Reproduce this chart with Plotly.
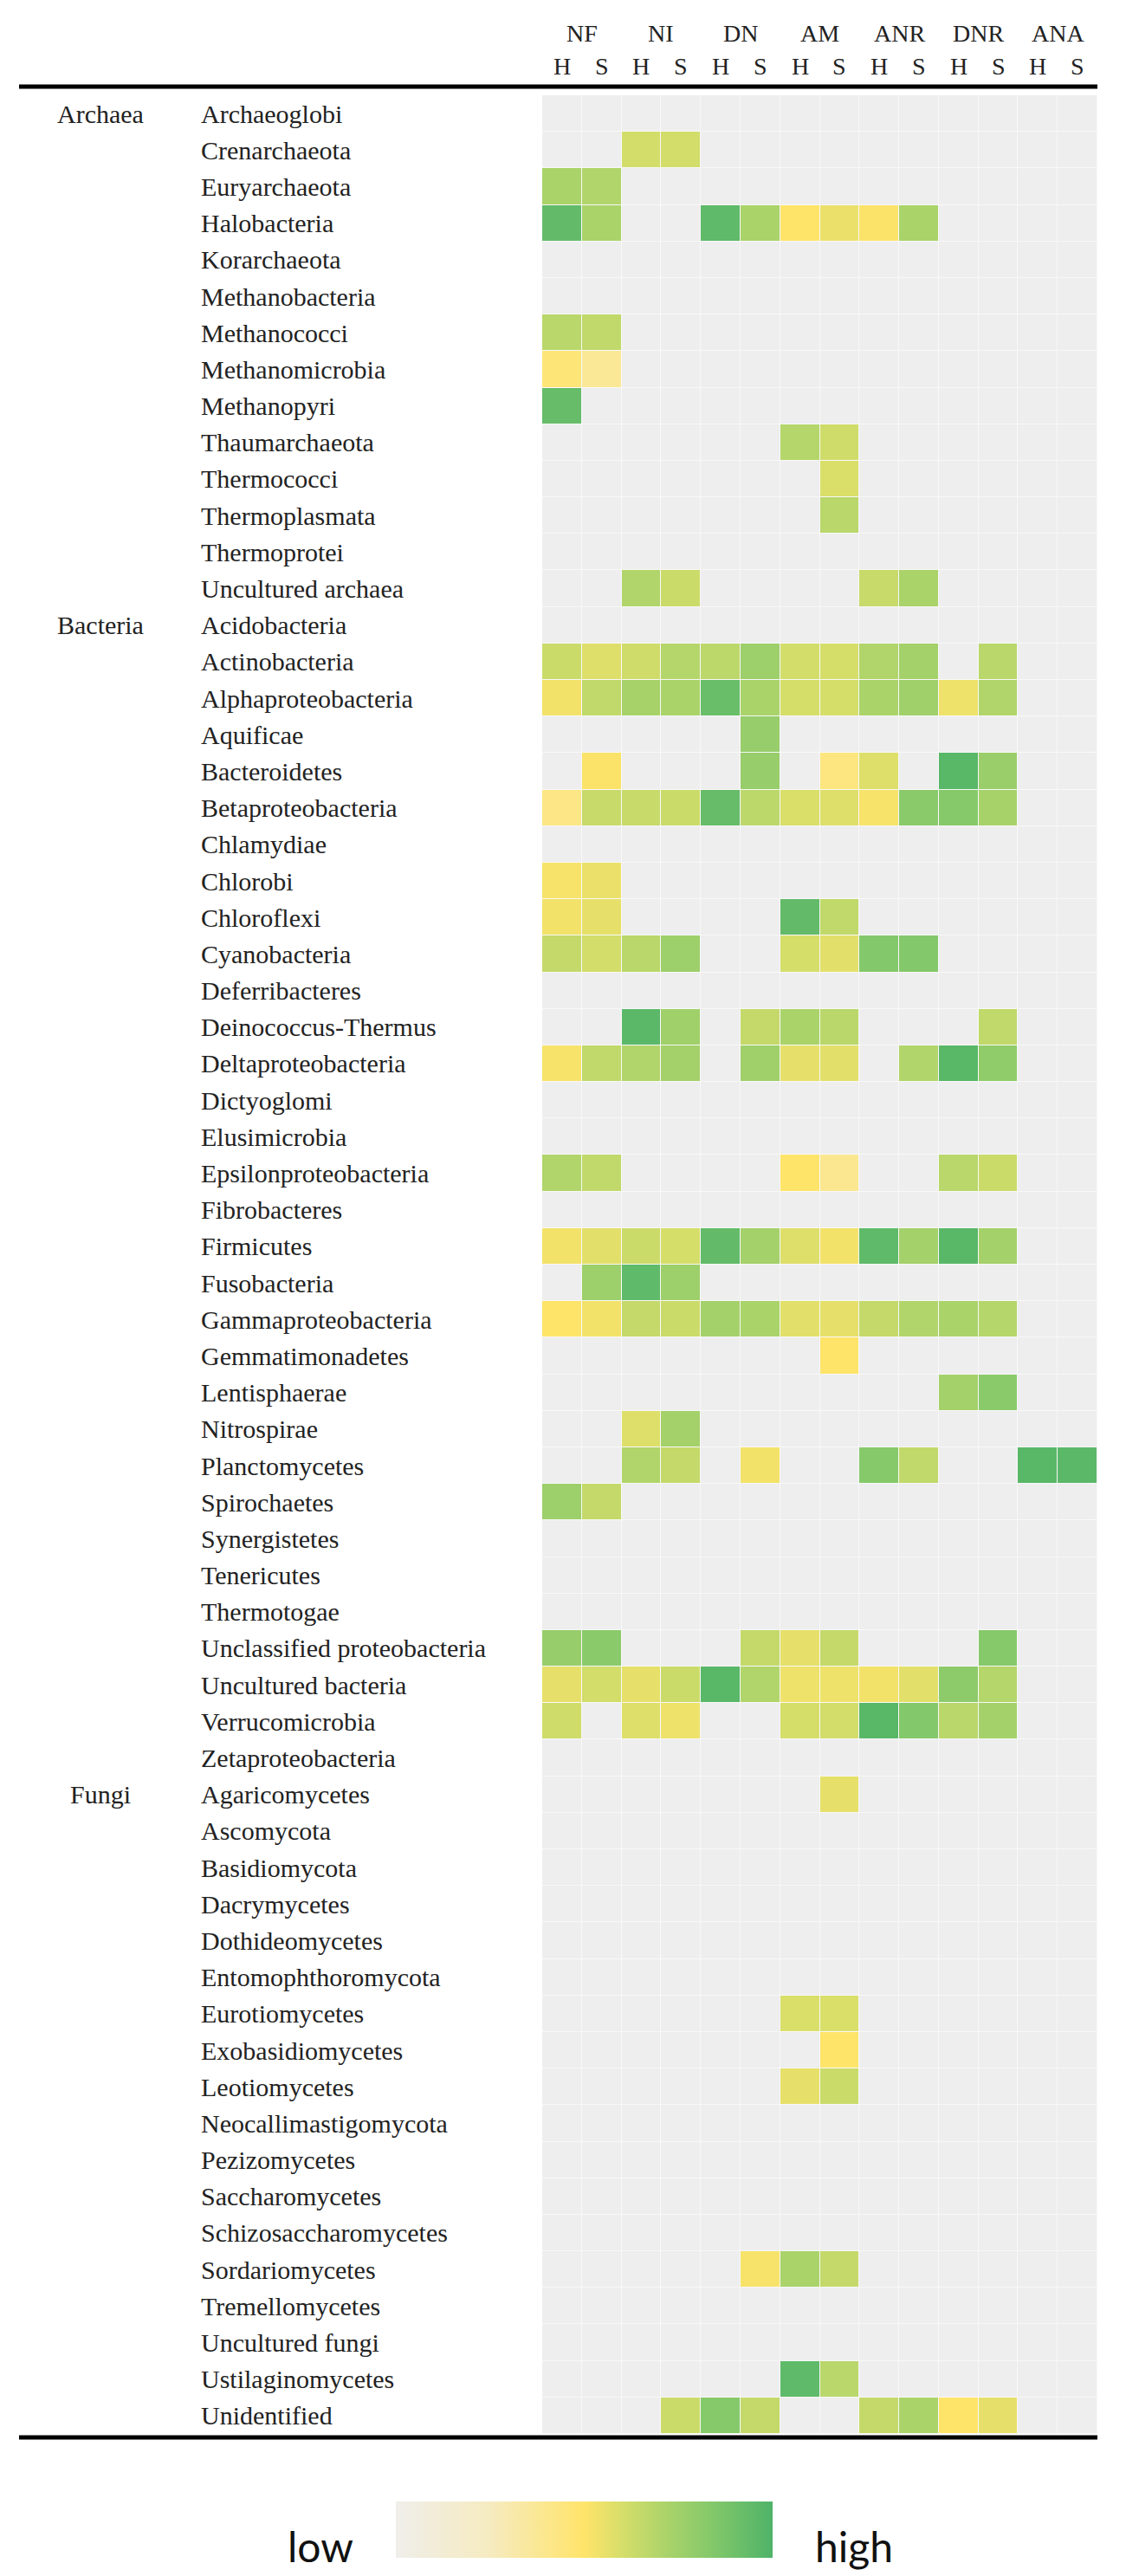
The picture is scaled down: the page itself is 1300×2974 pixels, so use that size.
import plotly.graph_objects as go

# ---------------- data ----------------
treatments = ["NF", "NI", "DN", "AM", "ANR", "DNR", "ANA"]
sub_cols = ["H", "S"]
columns = [f"{t} {s}" for t in treatments for s in sub_cols]

groups = ["Archaea", "Bacteria", "Fungi"]

archaea_taxa = ["Archaeoglobi", "Crenarchaeota", "Euryarchaeota", "Halobacteria", "Korarchaeota",
                "Methanobacteria", "Methanococci", "Methanomicrobia", "Methanopyri", "Thaumarchaeota",
                "Thermococci", "Thermoplasmata", "Thermoprotei", "Uncultured archaea"]
bacteria_taxa = ["Acidobacteria", "Actinobacteria", "Alphaproteobacteria", "Aquificae", "Bacteroidetes",
                 "Betaproteobacteria", "Chlamydiae", "Chlorobi", "Chloroflexi", "Cyanobacteria",
                 "Deferribacteres", "Deinococcus-Thermus", "Deltaproteobacteria", "Dictyoglomi",
                 "Elusimicrobia", "Epsilonproteobacteria", "Fibrobacteres", "Firmicutes", "Fusobacteria",
                 "Gammaproteobacteria", "Gemmatimonadetes", "Lentisphaerae", "Nitrospirae",
                 "Planctomycetes", "Spirochaetes", "Synergistetes", "Tenericutes", "Thermotogae",
                 "Unclassified proteobacteria", "Uncultured bacteria", "Verrucomicrobia",
                 "Zetaproteobacteria"]
fungi_taxa = ["Agaricomycetes", "Ascomycota", "Basidiomycota", "Dacrymycetes", "Dothideomycetes",
              "Entomophthoromycota", "Eurotiomycetes", "Exobasidiomycetes", "Leotiomycetes",
              "Neocallimastigomycota", "Pezizomycetes", "Saccharomycetes", "Schizosaccharomycetes",
              "Sordariomycetes", "Tremellomycetes", "Uncultured fungi", "Ustilaginomycetes", "Unidentified"]

N = None
#            NF H NF S NI H NI S DN H DN S AM H AM S ANRH ANRS DNRH DNRS ANAH ANAS
archaea_values = [
    [N, N, N, N, N, N, N, N, N, N, N, N, N, N],            # Archaeoglobi
    [N, N, 61, 61, N, N, N, N, N, N, N, N, N, N],          # Crenarchaeota
    [72, 70, N, N, N, N, N, N, N, N, N, N, N, N],          # Euryarchaeota
    [94, 72, N, N, 95, 72, 50, 55, 51, 72, N, N, N, N],    # Halobacteria
    [N, N, N, N, N, N, N, N, N, N, N, N, N, N],            # Korarchaeota
    [N, N, N, N, N, N, N, N, N, N, N, N, N, N],            # Methanobacteria
    [68, 66, N, N, N, N, N, N, N, N, N, N, N, N],          # Methanococci
    [46, 37, N, N, N, N, N, N, N, N, N, N, N, N],          # Methanomicrobia
    [93, N, N, N, N, N, N, N, N, N, N, N, N, N],           # Methanopyri
    [N, N, N, N, N, N, 69, 62, N, N, N, N, N, N],          # Thaumarchaeota
    [N, N, N, N, N, N, N, 59, N, N, N, N, N, N],           # Thermococci
    [N, N, N, N, N, N, N, 68, N, N, N, N, N, N],           # Thermoplasmata
    [N, N, N, N, N, N, N, N, N, N, N, N, N, N],            # Thermoprotei
    [N, N, 70, 63, N, N, N, N, 64, 72, N, N, N, N],        # Uncultured archaea
]
bacteria_values = [
    [N, N, N, N, N, N, N, N, N, N, N, N, N, N],            # Acidobacteria
    [63, 58, 62, 69, 67, 76, 61, 60, 70, 74, N, 68, N, N], # Actinobacteria
    [53, 66, 73, 72, 92, 72, 60, 60, 72, 75, 54, 70, N, N],# Alphaproteobacteria
    [N, N, N, N, N, 78, N, N, N, N, N, N, N, N],           # Aquificae
    [N, 51, N, N, N, 78, N, 44, 58, N, 97, 77, N, N],      # Bacteroidetes
    [42, 64, 64, 63, 93, 67, 59, 58, 52, 82, 83, 73, N, N],# Betaproteobacteria
    [N, N, N, N, N, N, N, N, N, N, N, N, N, N],            # Chlamydiae
    [52, 55, N, N, N, N, N, N, N, N, N, N, N, N],          # Chlorobi
    [53, 56, N, N, N, N, 94, 66, N, N, N, N, N, N],        # Chloroflexi
    [65, 61, 68, 76, N, N, 60, 57, 84, 84, N, N, N, N],    # Cyanobacteria
    [N, N, N, N, N, N, N, N, N, N, N, N, N, N],            # Deferribacteres
    [N, N, 96, 75, N, 65, 72, 68, N, N, N, 66, N, N],      # Deinococcus-Thermus
    [52, 66, 70, 74, N, 75, 56, 57, N, 70, 97, 80, N, N],  # Deltaproteobacteria
    [N, N, N, N, N, N, N, N, N, N, N, N, N, N],            # Dictyoglomi
    [N, N, N, N, N, N, N, N, N, N, N, N, N, N],            # Elusimicrobia
    [70, 66, N, N, N, N, 50, 39, N, N, 68, 63, N, N],      # Epsilonproteobacteria
    [N, N, N, N, N, N, N, N, N, N, N, N, N, N],            # Fibrobacteres
    [53, 57, 63, 60, 94, 74, 58, 53, 95, 74, 97, 74, N, N],# Firmicutes
    [N, 76, 95, 76, N, N, N, N, N, N, N, N, N, N],         # Fusobacteria
    [50, 53, 65, 63, 74, 72, 57, 56, 65, 70, 72, 69, N, N],# Gammaproteobacteria
    [N, N, N, N, N, N, N, 50, N, N, N, N, N, N],           # Gemmatimonadetes
    [N, N, N, N, N, N, N, N, N, N, 74, 82, N, N],          # Lentisphaerae
    [N, N, 58, 74, N, N, N, N, N, N, N, N, N, N],          # Nitrospirae
    [N, N, 70, 65, N, 53, N, N, 83, 66, N, N, 97, 96],     # Planctomycetes
    [76, 65, N, N, N, N, N, N, N, N, N, N, N, N],          # Spirochaetes
    [N, N, N, N, N, N, N, N, N, N, N, N, N, N],            # Synergistetes
    [N, N, N, N, N, N, N, N, N, N, N, N, N, N],            # Tenericutes
    [N, N, N, N, N, N, N, N, N, N, N, N, N, N],            # Thermotogae
    [78, 82, N, N, N, 65, 56, 65, N, N, N, 83, N, N],      # Unclassified proteobacteria
    [56, 61, 56, 63, 97, 70, 54, 54, 53, 57, 81, 69, N, N],# Uncultured bacteria
    [62, N, 58, 54, N, N, 60, 61, 97, 84, 68, 74, N, N],   # Verrucomicrobia
    [N, N, N, N, N, N, N, N, N, N, N, N, N, N],            # Zetaproteobacteria
]
fungi_values = [
    [N, N, N, N, N, N, N, 56, N, N, N, N, N, N],           # Agaricomycetes
    [N, N, N, N, N, N, N, N, N, N, N, N, N, N],            # Ascomycota
    [N, N, N, N, N, N, N, N, N, N, N, N, N, N],            # Basidiomycota
    [N, N, N, N, N, N, N, N, N, N, N, N, N, N],            # Dacrymycetes
    [N, N, N, N, N, N, N, N, N, N, N, N, N, N],            # Dothideomycetes
    [N, N, N, N, N, N, N, N, N, N, N, N, N, N],            # Entomophthoromycota
    [N, N, N, N, N, N, 59, 59, N, N, N, N, N, N],          # Eurotiomycetes
    [N, N, N, N, N, N, N, 50, N, N, N, N, N, N],           # Exobasidiomycetes
    [N, N, N, N, N, N, 56, 63, N, N, N, N, N, N],          # Leotiomycetes
    [N, N, N, N, N, N, N, N, N, N, N, N, N, N],            # Neocallimastigomycota
    [N, N, N, N, N, N, N, N, N, N, N, N, N, N],            # Pezizomycetes
    [N, N, N, N, N, N, N, N, N, N, N, N, N, N],            # Saccharomycetes
    [N, N, N, N, N, N, N, N, N, N, N, N, N, N],            # Schizosaccharomycetes
    [N, N, N, N, N, 52, 72, 65, N, N, N, N, N, N],         # Sordariomycetes
    [N, N, N, N, N, N, N, N, N, N, N, N, N, N],            # Tremellomycetes
    [N, N, N, N, N, N, N, N, N, N, N, N, N, N],            # Uncultured fungi
    [N, N, N, N, N, N, 95, 68, N, N, N, N, N, N],          # Ustilaginomycetes
    [N, N, N, 63, 83, 65, N, N, 65, 72, 50, 56, N, N],     # Unidentified
]

# ---------------- assemble ----------------
taxa = archaea_taxa + bacteria_taxa + fungi_taxa
z = archaea_values + bacteria_values + fungi_values
group_first_row = [0, len(archaea_taxa), len(archaea_taxa) + len(bacteria_taxa)]
n_rows = len(taxa)
n_cols = len(columns)
xs = list(range(n_cols))
ys = list(range(n_rows))

# pixel geometry of the plot area
W, H = 1300, 2974
L, R, T, B = 618, 1259, 102, 2802
pw, ph = R - L, B - T


def px_x(px):
    return (px - L) / pw


def px_y(py):
    return (B - py) / ph


colorscale = [
    [0.0, "#EFEEEA"],
    [0.25, "#F6EBC0"],
    [0.50, "#FFE46A"],
    [0.60, "#D6DE6A"],
    [0.72, "#AAD36A"],
    [0.85, "#80C76A"],
    [1.0, "#4FB368"],
]

SERIF = "Liberation Serif, Times New Roman, serif"
SANS = "Lato, Carlito, sans-serif"

fig = go.Figure()

# grey background cells
fig.add_trace(go.Heatmap(
    x=xs, y=ys, z=[[0] * n_cols for _ in ys],
    colorscale=[[0, "#EEEEEE"], [1, "#EEEEEE"]],
    showscale=False, xgap=1, ygap=1, hoverinfo="skip",
))

# data cells
fig.add_trace(go.Heatmap(
    x=xs, y=ys, z=z, zmin=0, zmax=100,
    colorscale=colorscale, xgap=1, ygap=1,
    colorbar=dict(
        orientation="h", thickness=65, thicknessmode="pixels",
        len=435, lenmode="pixels",
        x=px_x(666.5), xanchor="center", xpad=0,
        y=px_y(2880), yanchor="top", ypad=0,
        showticklabels=False, ticks="", outlinewidth=0,
    ),
    customdata=[[taxa[i]] * n_cols for i in ys],
    hovertemplate="%{customdata}<br>col %{x}<br>%{z}<extra></extra>",
))

annotations = []
# taxon labels
for i, name in enumerate(taxa):
    annotations.append(dict(
        x=px_x(222), xref="paper", y=i, yref="y", text=name, showarrow=False,
        xanchor="left", yanchor="middle", font=dict(family=SERIF, size=30, color="#222222"),
    ))
# group labels
for g, r in zip(groups, group_first_row):
    annotations.append(dict(
        x=px_x(108), xref="paper", y=r, yref="y", text=g, showarrow=False,
        xanchor="center", yanchor="middle", font=dict(family=SERIF, size=30, color="#222222"),
    ))
# header
for k, t in enumerate(treatments):
    annotations.append(dict(
        x=2 * k + 0.5, xref="x", y=px_y(30), yref="paper", text=t, showarrow=False,
        xanchor="center", yanchor="middle", font=dict(family=SERIF, size=28, color="#222222"),
    ))
for c in xs:
    annotations.append(dict(
        x=c, xref="x", y=px_y(68), yref="paper", text=sub_cols[c % 2], showarrow=False,
        xanchor="center", yanchor="middle", font=dict(family=SERIF, size=28, color="#222222"),
    ))
# colour-bar labels
annotations.append(dict(x=px_x(362), xref="paper", y=px_y(2931), yref="paper", text="low",
                        showarrow=False, xanchor="center", yanchor="middle",
                        font=dict(family=SANS, size=48, color="#111111")))
annotations.append(dict(x=px_x(978), xref="paper", y=px_y(2931), yref="paper", text="high",
                        showarrow=False, xanchor="center", yanchor="middle",
                        font=dict(family=SANS, size=48, color="#111111")))

shapes = [
    dict(type="line", xref="paper", yref="paper", x0=px_x(14), x1=1.0, y0=px_y(92), y1=px_y(92),
         line=dict(color="black", width=5)),
    dict(type="line", xref="paper", yref="paper", x0=px_x(14), x1=1.0, y0=px_y(2806), y1=px_y(2806),
         line=dict(color="black", width=5)),
]

fig.update_layout(
    width=W, height=H,
    margin=dict(l=L, r=W - R, t=T, b=H - B, pad=0),
    paper_bgcolor="white", plot_bgcolor="#F8F8F8",
    xaxis=dict(range=[-0.5, n_cols - 0.5], showticklabels=False, showgrid=False,
               zeroline=False, ticks="", fixedrange=True),
    yaxis=dict(range=[n_rows - 0.5, -0.5], showticklabels=False, showgrid=False,
               zeroline=False, ticks="", fixedrange=True),
    annotations=annotations, shapes=shapes, showlegend=False,
)

fig.write_html("out.html")
